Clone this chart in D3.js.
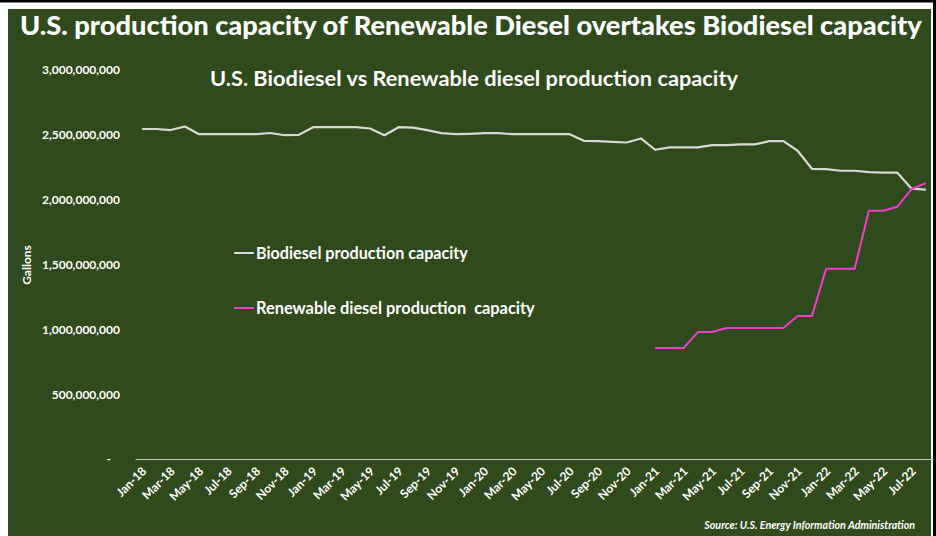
<!DOCTYPE html>
<html>
<head>
<meta charset="utf-8">
<script src="https://cdn.jsdelivr.net/npm/d3@7/dist/d3.min.js"></script>
<style>
  html, body { margin: 0; padding: 0; background: #ffffff; }
  svg { display: block; }
  text { font-family: "Lato", "Open Sans", sans-serif; fill: #ffffff; }
</style>
</head>
<body>
<svg id="chart" width="936" height="536"></svg>
<script>
// Monthly categories, Jan-2018 through Aug-2022
const months = ["Jan","Feb","Mar","Apr","May","Jun","Jul","Aug","Sep","Oct","Nov","Dec"];
const categories = [];
for (let y = 18; y <= 22; y++) {
  for (let m = 0; m < 12; m++) {
    if (y === 22 && m > 7) break;
    categories.push(months[m] + "-" + y);
  }
}

// Biodiesel production capacity (gallons per year)
const biodiesel = [
  2545e6, 2545e6, 2537e6, 2564e6, 2505e6, 2505e6, 2505e6, 2505e6, 2505e6, 2514e6,
  2497e6, 2500e6, 2559e6, 2559e6, 2559e6, 2559e6, 2549e6, 2497e6, 2559e6, 2555e6,
  2536e6, 2513e6, 2505e6, 2508e6, 2513e6, 2513e6, 2505e6, 2505e6, 2505e6, 2505e6,
  2505e6, 2454e6, 2452e6, 2446e6, 2441e6, 2472e6, 2385e6, 2403e6, 2403e6, 2403e6,
  2421e6, 2421e6, 2426e6, 2426e6, 2451e6, 2451e6, 2377e6, 2238e6, 2236e6, 2223e6,
  2223e6, 2213e6, 2208e6, 2208e6, 2085e6, 2077e6
];

// Renewable diesel production capacity (reported from Jan-2021)
const renewable = [
  null, null, null, null, null, null, null, null, null, null, null, null,
  null, null, null, null, null, null, null, null, null, null, null, null,
  null, null, null, null, null, null, null, null, null, null, null, null,
  856e6, 856e6, 856e6, 979e6, 979e6, 1010e6, 1010e6, 1010e6, 1010e6, 1010e6,
  1102e6, 1102e6, 1467e6, 1467e6, 1467e6, 1915e6, 1915e6, 1946e6, 2082e6, 2128e6
];

const yTicks = [0, 500e6, 1000e6, 1500e6, 2000e6, 2500e6, 3000e6];
const xTickLabels = categories.filter((d, i) => i % 2 === 0);

const seriesNames = ["Biodiesel production capacity", "Renewable diesel production  capacity"];
const seriesColors = ["#d9d9d9", "#f53bcb"];

const svg = d3.select("#chart");
const W = 936, H = 536;
const bg = "#2f4a1c";

// Frame
svg.append("rect").attr("x", 0).attr("y", 0).attr("width", W).attr("height", H).attr("fill", "#ffffff");
svg.append("rect").attr("x", 0).attr("y", 0).attr("width", W).attr("height", 2.5).attr("fill", "#000000");
svg.append("rect").attr("x", 933).attr("y", 0).attr("width", 3).attr("height", H).attr("fill", "#000000");
svg.append("rect").attr("x", 8).attr("y", 9).attr("width", 923).attr("height", H - 9).attr("fill", bg);

// Fit a text element to a target width
function fit(sel, width) {
  const len = sel.node().getComputedTextLength();
  const fs = parseFloat(sel.attr("font-size"));
  sel.attr("font-size", (fs * width / len).toFixed(2));
}

// Headline
const title = svg.append("text")
  .attr("x", 20).attr("y", 35)
  .attr("font-size", 26).attr("font-weight", 900)
  .text("U.S. production capacity of Renewable Diesel overtakes Biodiesel capacity");
fit(title, 902);

// Chart subtitle
const sub = svg.append("text")
  .attr("x", 474).attr("y", 86)
  .attr("text-anchor", "middle")
  .attr("font-size", 18).attr("font-weight", 700)
  .text("U.S. Biodiesel vs Renewable diesel production capacity");
fit(sub, 528);

// Scales
const plot = { left: 135, right: 933, top: 70, bottom: 459 };
const x = d3.scaleBand().domain(categories).range([plot.left, plot.right]);
const xc = d => x(d) + x.bandwidth() / 2;
const y = d3.scaleLinear().domain([0, 3000e6]).range([plot.bottom, plot.top]);

// Y axis (labels only)
const fmt = d3.format(",");
const yAxis = svg.append("g")
  .attr("transform", `translate(${plot.left},0)`)
  .call(d3.axisLeft(y).tickValues(yTicks).tickSize(0).tickPadding(15)
    .tickFormat(d => d === 0 ? "-" : fmt(d)));
yAxis.select(".domain").remove();
yAxis.selectAll("text")
  .attr("fill", "#ffffff").attr("font-size", 12).attr("font-weight", 700)
  .attr("font-family", "Lato, sans-serif");
yAxis.selectAll(".tick text").filter(d => d === 0).attr("dx", -9);

// Y axis title
svg.append("text")
  .attr("transform", "translate(31,265) rotate(-90)")
  .attr("text-anchor", "middle")
  .attr("font-size", 12).attr("font-weight", 700)
  .text("Gallons");

// X axis
const xAxis = svg.append("g")
  .attr("transform", `translate(0,${plot.bottom})`)
  .call(d3.axisBottom(x).tickValues(xTickLabels).tickSize(0).tickPadding(0));
xAxis.select(".domain").attr("stroke", "#c8c8c8").attr("stroke-width", 1.2);
xAxis.selectAll("text")
  .attr("fill", "#ffffff").attr("font-size", 12).attr("font-weight", 700)
  .attr("font-family", "Lato, sans-serif")
  .attr("text-anchor", "end")
  .attr("dy", 0)
  .attr("transform", "translate(5,13) rotate(-45)");

// Lines
const line = d3.line()
  .defined(d => d.v !== null)
  .x(d => xc(d.c))
  .y(d => y(d.v));

[biodiesel, renewable].forEach((vals, k) => {
  const data = categories.map((c, i) => ({ c, v: vals[i] }));
  svg.append("path")
    .datum(data)
    .attr("fill", "none")
    .attr("stroke", seriesColors[k])
    .attr("stroke-width", k === 0 ? 2.2 : 2)
    .attr("stroke-linejoin", "round")
    .attr("d", line);
});

// Legend
const legend = svg.append("g");
const legendWidths = [212, 279];
seriesNames.forEach((name, k) => {
  const ly = 253 + k * 55;
  legend.append("line")
    .attr("x1", 234).attr("x2", 254).attr("y1", ly).attr("y2", ly)
    .attr("stroke", seriesColors[k]).attr("stroke-width", 2);
  const t = legend.append("text")
    .attr("x", 256).attr("y", ly + 5.5)
    .attr("font-size", 16).attr("font-weight", 700)
    .style("white-space", "pre")
    .text(name);
  fit(t, legendWidths[k]);
});

// Source note
const src = svg.append("text")
  .attr("x", 915).attr("y", 529)
  .attr("text-anchor", "end")
  .attr("font-size", 10.5).attr("font-weight", 700).attr("font-style", "italic")
  .text("Source: U.S. Energy Information Administration");
fit(src, 211);
</script>
</body>
</html>
